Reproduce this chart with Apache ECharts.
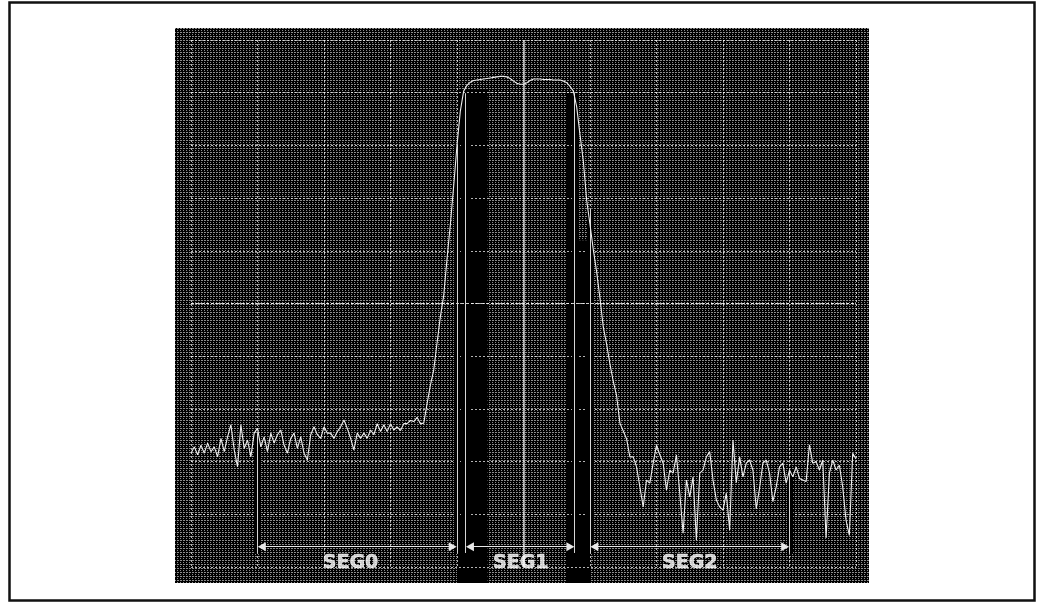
<!DOCTYPE html>
<html>
<head>
<meta charset="utf-8">
<script src="https://cdn.jsdelivr.net/npm/echarts@6/dist/echarts.min.js"></script>
<style>
  html, body { margin: 0; padding: 0; background: #fff; }
  #chart { width: 1039px; height: 604px; }
</style>
</head>
<body>
<div id="chart"></div>
<script>
// Trace sampled every STEP horizontal units (0..100 across ten divisions)
const STEP = 0.5;

// Noise floor left of the channel (x = 0 .. 34.5)
const leftNoise = [
  21.6, 22.8, 21.3, 23.1, 21.6, 23.5, 21.9, 22.8, 20.9, 24.4,
  21.9, 24.7, 27.0, 22.2, 19.0, 27.0, 22.5, 24.1, 20.9, 25.4,
  26.3, 22.8, 24.7, 21.9, 25.4, 23.5, 25.1, 26.0, 23.1, 21.6,
  24.4, 25.4, 22.5, 24.7, 21.6, 20.3, 25.1, 26.6, 25.1, 24.4,
  26.6, 25.4, 25.4, 24.4, 25.7, 26.6, 27.9, 26.3, 24.4, 22.2,
  25.4, 24.4, 25.4, 24.4, 26.0, 25.1, 27.2, 25.7, 27.0, 25.7,
  27.2, 26.0, 26.6, 25.9, 27.2, 27.2, 27.8, 27.6, 28.4, 27.2
];
// Rising edge (x = 35 .. 41)
const riseEdge = [27.3, 31.0, 34.5, 37.4, 42.5, 47.5, 51.5, 58.5, 65.0, 72.3, 80.0, 86.5, 90.3];
// Channel top (x = 41.5 .. 57)
const plateau = [
  91.4, 92.0, 92.3, 92.4, 92.5, 92.6, 92.7, 92.8, 92.9, 93.0,
  93.1, 93.1, 93.0, 92.7, 92.2, 91.8, 91.6, 91.6, 91.9, 92.3,
  92.6, 92.6, 92.6, 92.5, 92.5, 92.5, 92.4, 92.4, 92.4, 92.2,
  91.9, 91.2
];
// Falling edge (x = 57.5 .. 65.5)
const fallEdge = [90.3, 87.3, 82.0, 77.0, 69.6, 65.0, 60.2, 56.0, 51.0, 45.5, 42.3, 38.5, 35.2, 32.5, 27.3, 25.8, 24.3];
// Noise floor right of the channel (x = 66 .. 100)
const rightNoise = [
  20.9, 20.9, 19.0, 15.2, 11.4, 16.5, 15.9, 19.7, 23.1, 21.3,
  19.7, 14.6, 18.4, 17.8, 21.3, 14.0, 6.4, 16.5, 13.3, 17.1,
  5.1, 17.8, 18.4, 20.9, 21.9, 16.5, 12.7, 11.4, 10.8, 14.0,
  7.0, 24.1, 16.0, 20.9, 17.1, 19.7, 20.3, 18.4, 11.0, 15.0,
  19.7, 20.3, 17.8, 12.4, 15.2, 19.0, 19.7, 15.9, 18.4, 17.1,
  19.0, 16.8, 16.5, 16.2, 23.2, 19.7, 20.0, 18.4, 20.3, 5.5,
  17.8, 20.3, 18.4, 19.3, 15.2, 8.9, 6.0, 21.6, 20.5
];

// Measurement segments
const segNames = ['SEG0', 'SEG1', 'SEG2'];
const segStart = [10, 41.3, 60];
const segEnd = [40, 57.7, 90];
const segLabelX = [24, 49.6, 75];

// Segment boundary markers: x and the level they hang from
const markerX = [10, 40, 41.3, 57.7, 60, 90];
const markerTop = [25.4, 80.1, 89.9, 89.9, 68.0, 18.4];

// Blanked display columns under the channel: [x0, x1, top]
const blankCols = [[40, 44.6, 90.6], [56.4, 58.2, 89.9], [58.2, 60, 62]];

const ARROW_Y = 3.85;
const MARK_BOTTOM = 2.66;
const LABEL_Y = 0.72;

const trace = [...leftNoise, ...riseEdge, ...plateau, ...fallEdge, ...rightNoise]
  .map((v, i) => [i * STEP, v]);

// Display screen frame (pixels) and its dotted phosphor texture
const SCREEN = { x: 175, y: 28, w: 694, h: 555 };
function makeTexture() {
  const c = document.createElement('canvas');
  c.width = 3; c.height = 4;
  const g = c.getContext('2d');
  g.fillStyle = '#000';
  g.fillRect(0, 0, 3, 4);
  g.fillStyle = '#8c8c8c';
  g.fillRect(0, 0, 2, 1);
  g.fillRect(0, 2, 1, 1);
  return c;
}
const texture = makeTexture();

const gridLine = { color: 'rgba(255,255,255,0.7)', width: 1, type: [2, 2] };

const chart = echarts.init(document.getElementById('chart'), null, { renderer: 'canvas' });

const baseGraphic = [
  {
    type: 'rect', z: -20, silent: true,
    shape: { x: 9.5, y: 2.5, width: 1025, height: 598 },
    style: { fill: '#fff', stroke: '#111', lineWidth: 2.5 }
  },
  {
    type: 'rect', z: -10, silent: true,
    shape: { x: SCREEN.x, y: SCREEN.y, width: SCREEN.w, height: SCREEN.h },
    style: { fill: { image: texture, repeat: 'repeat' } }
  }
];

const option = {
  animation: false,
  backgroundColor: '#fff',
  grid: { left: 191, right: 183, top: 40, bottom: 37 },
  xAxis: {
    type: 'value', min: 0, max: 100, interval: 10,
    axisLine: { show: false }, axisTick: { show: false }, axisLabel: { show: false },
    splitLine: { show: true, lineStyle: gridLine }
  },
  yAxis: {
    type: 'value', min: 0, max: 100, interval: 10,
    axisLine: { show: false }, axisTick: { show: false }, axisLabel: { show: false },
    splitLine: { show: true, lineStyle: gridLine }
  },
  graphic: baseGraphic,
  series: [
    {
      // dark gaps behind the segment markers
      name: 'markerShade', type: 'line', data: [], z: 1,
      markLine: {
        silent: true, symbol: ['none', 'none'], label: { show: false },
        lineStyle: { color: '#000', width: 6, type: 'solid' },
        data: markerX.map((x, i) => [{ coord: [x, markerTop[i]] }, { coord: [x, MARK_BOTTOM] }])
      }
    },
    {
      // centre graticule lines
      name: 'centre', type: 'line', data: [], z: 2,
      markLine: {
        silent: true, symbol: ['none', 'none'], label: { show: false },
        data: [
          { xAxis: 50, lineStyle: { color: '#d4d4d4', width: 1.5, type: 'solid' } },
          { yAxis: 50, lineStyle: { color: 'rgba(255,255,255,0.8)', width: 1, type: [3, 2] } }
        ]
      }
    },
    {
      name: 'markers', type: 'line', data: [], z: 3,
      markLine: {
        silent: true, symbol: ['none', 'none'], label: { show: false },
        lineStyle: { color: '#d6d6d6', width: 1, type: 'solid' },
        data: markerX.map((x, i) => [{ coord: [x, markerTop[i]] }, { coord: [x, MARK_BOTTOM] }])
      }
    },
    {
      name: 'spans', type: 'line', data: [], z: 4,
      markLine: {
        silent: true, symbol: ['triangle', 'triangle'], symbolSize: [9, 8],
        label: { show: false },
        lineStyle: { color: '#e8e8e8', width: 1, type: 'solid' },
        data: segStart.map((s, i) => {
          const inset = 0.65;
          return [{ coord: [s + inset, ARROW_Y] }, { coord: [segEnd[i] - inset, ARROW_Y] }];
        })
      }
    },
    {
      name: 'trace', type: 'line', data: trace, z: 6,
      showSymbol: false, symbol: 'none', smooth: false,
      lineStyle: { color: '#ededed', width: 1.1 }
    },
    {
      name: 'segLabels', type: 'scatter', z: 7, symbolSize: 0,
      data: segLabelX.map((x, i) => ({ name: segNames[i], value: [x, LABEL_Y] })),
      label: {
        show: true, position: 'inside', formatter: '{b}',
        color: '#fff', fontSize: 19, fontWeight: 'bold', fontFamily: 'DejaVu Sans',
        textBorderColor: '#fff', textBorderWidth: 0.6
      }
    }
  ]
};

chart.setOption(option);

// Blanked columns, placed through the chart's own scales and run to the screen's lower edge
const px = (x, y) => chart.convertToPixel({ gridIndex: 0 }, [x, y]);
const colGraphics = blankCols.map(([x0, x1, top]) => {
  const a = px(x0, top);
  const b = px(x1, 0);
  return {
    type: 'rect', z: -5, silent: true,
    shape: { x: a[0], y: a[1], width: b[0] - a[0], height: SCREEN.y + SCREEN.h - a[1] },
    style: { fill: '#000' }
  };
});
chart.setOption({ graphic: baseGraphic.concat(colGraphics) });
</script>
</body>
</html>
